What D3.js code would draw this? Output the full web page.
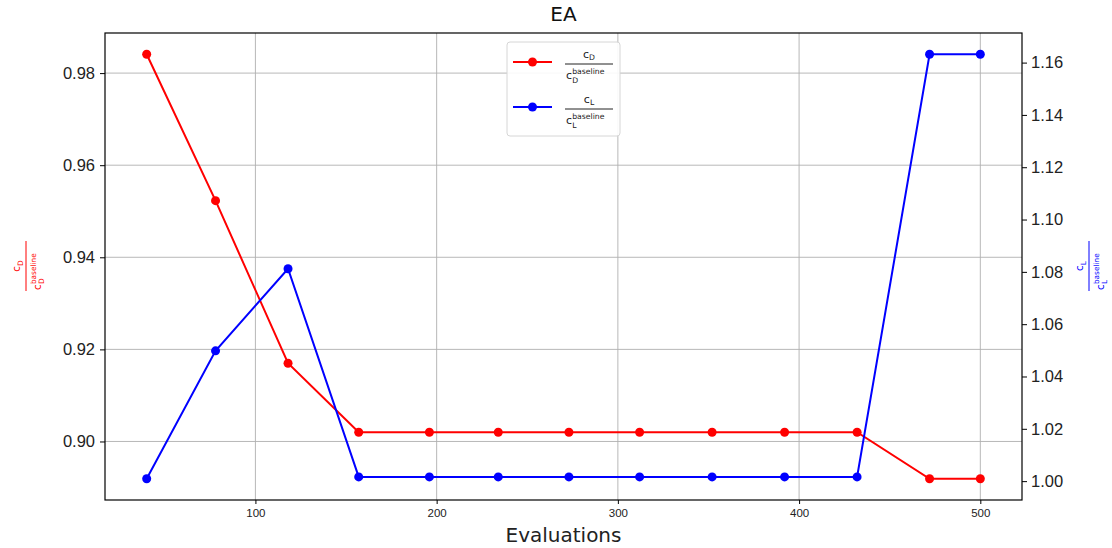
<!DOCTYPE html>
<html>
<head>
<meta charset="utf-8">
<script src="https://cdn.jsdelivr.net/npm/d3@7"></script>
<style>
  body { margin: 0; background: #fff; }
  svg { font-family: "DejaVu Sans", sans-serif; }
</style>
</head>
<body>
<div id="chart"></div>
<script>
const evaluations = [40, 78, 118, 157, 196, 234, 273, 312, 352, 392, 432, 472, 500]
const cdRatio = [0.9841, 0.9523, 0.9170, 0.9020, 0.9020, 0.9020, 0.9020, 0.9020, 0.9020, 0.9020, 0.9020, 0.8919, 0.8919]
const clRatio = [1.0009, 1.0498, 1.0812, 1.0016, 1.0016, 1.0016, 1.0016, 1.0016, 1.0016, 1.0016, 1.0016, 1.1632, 1.1632]
const xTicks = [100, 200, 300, 400, 500]
const leftTicks = [0.90, 0.92, 0.94, 0.96, 0.98]
const rightTicks = [1.00, 1.02, 1.04, 1.06, 1.08, 1.10, 1.12, 1.14, 1.16]

const width = 1112, height = 548
const margin = {top: 33, right: 90, bottom: 48, left: 105}
const innerW = width - margin.left - margin.right
const innerH = height - margin.top - margin.bottom

// matplotlib-like 5% padding
function padded(vals) {
  const [lo, hi] = d3.extent(vals)
  const p = (hi - lo) * 0.05
  return [lo - p, hi + p]
}

const x = d3.scaleLinear().domain(padded(evaluations)).range([0, innerW])
const yL = d3.scaleLinear().domain(padded(cdRatio)).range([innerH, 0])
const yR = d3.scaleLinear().domain(padded(clRatio)).range([innerH, 0])

const svg = d3.select("#chart").append("svg")
  .attr("width", width).attr("height", height)

const g = svg.append("g").attr("transform", `translate(${margin.left},${margin.top})`)

// grid
g.append("g").selectAll("line").data(xTicks).join("line")
  .attr("x1", d => x(d)).attr("x2", d => x(d))
  .attr("y1", 0).attr("y2", innerH)
  .attr("stroke", "#b0b0b0").attr("stroke-width", 0.9)
g.append("g").selectAll("line").data(leftTicks).join("line")
  .attr("x1", 0).attr("x2", innerW)
  .attr("y1", d => yL(d)).attr("y2", d => yL(d))
  .attr("stroke", "#b0b0b0").attr("stroke-width", 0.9)

// axes
const xAxis = g.append("g").attr("transform", `translate(0,${innerH})`)
  .call(d3.axisBottom(x).tickValues(xTicks).tickFormat(d3.format("d")).tickSize(4).tickPadding(5))
xAxis.selectAll("text").attr("font-size", 11.5).attr("fill", "#222")

const leftAxis = g.append("g")
  .call(d3.axisLeft(yL).tickValues(leftTicks).tickFormat(d3.format(".2f")).tickSize(5).tickPadding(5))
leftAxis.selectAll("text").attr("font-size", 16.5).attr("fill", "#222")

const rightAxis = g.append("g").attr("transform", `translate(${innerW},0)`)
  .call(d3.axisRight(yR).tickValues(rightTicks).tickFormat(d3.format(".2f")).tickSize(5).tickPadding(4))
rightAxis.selectAll("text").attr("font-size", 16.5).attr("fill", "#222")

for (const a of [xAxis, leftAxis, rightAxis]) a.select(".domain").remove()

// frame
g.append("rect").attr("width", innerW).attr("height", innerH)
  .attr("fill", "none").attr("stroke", "#000").attr("stroke-width", 1.2)

// series
const series = [
  {values: cdRatio, y: yL, color: "#ff0000", sub: "D"},
  {values: clRatio, y: yR, color: "#0000ff", sub: "L"}
]
series.forEach(s => {
  const pts = evaluations.map((e, i) => [e, s.values[i]])
  g.append("path").datum(pts)
    .attr("fill", "none").attr("stroke", s.color).attr("stroke-width", 2)
    .attr("d", d3.line().x(d => x(d[0])).y(d => s.y(d[1])))
  g.append("g").selectAll("circle").data(pts).join("circle")
    .attr("cx", d => x(d[0])).attr("cy", d => s.y(d[1]))
    .attr("r", 4.5).attr("fill", s.color)
})

// fraction c_X / c_X^baseline, bar at y=0
function frac(parent, sub, color, fs, w) {
  const f = parent.append("g").attr("fill", color)
  const num = f.append("text").attr("text-anchor", "middle").attr("y", -fs * 0.55).attr("font-size", fs)
  num.append("tspan").text("c")
  num.append("tspan").attr("font-size", fs * 0.7).attr("dy", fs * 0.22).text(sub)
  f.append("line").attr("x1", -w / 2).attr("x2", w / 2)
    .attr("stroke", color).attr("stroke-width", 1)
  const dx = -w / 2 + 1
  f.append("text").attr("x", dx).attr("y", fs * 1.4).attr("font-size", fs).text("c")
  f.append("text").attr("x", dx + fs * 0.56).attr("y", fs * 1.7).attr("font-size", fs * 0.7).text(sub)
  f.append("text").attr("x", dx + fs * 0.56).attr("y", fs * 0.95).attr("font-size", fs * 0.7).text("baseline")
  return f
}

// y labels
frac(svg.append("g").attr("transform", "translate(26,266) rotate(-90)"), "D", "#ff0000", 10.5, 50)
frac(svg.append("g").attr("transform", "translate(1089,266) rotate(-90)"), "L", "#0000ff", 10.5, 50)

// title and x label
svg.append("text").attr("x", margin.left + innerW / 2).attr("y", 21)
  .attr("text-anchor", "middle").attr("font-size", 20).attr("fill", "#111").text("EA")
svg.append("text").attr("x", margin.left + innerW / 2).attr("y", 542)
  .attr("text-anchor", "middle").attr("font-size", 20).attr("fill", "#222").text("Evaluations")

// legend
const legend = svg.append("g").attr("transform", "translate(507,42)")
legend.append("rect").attr("width", 113).attr("height", 94).attr("rx", 3)
  .attr("fill", "#fff").attr("fill-opacity", 0.9).attr("stroke", "#d6d6d6")
series.forEach((s, i) => {
  const ly = 20 + i * 45
  legend.append("line").attr("x1", 6).attr("x2", 45).attr("y1", ly).attr("y2", ly)
    .attr("stroke", s.color).attr("stroke-width", 2)
  legend.append("circle").attr("cx", 25.5).attr("cy", ly).attr("r", 4.5).attr("fill", s.color)
  frac(legend.append("g").attr("transform", `translate(82,${ly + 2})`), s.sub, "#222", 11, 48)
})
</script>
</body>
</html>
